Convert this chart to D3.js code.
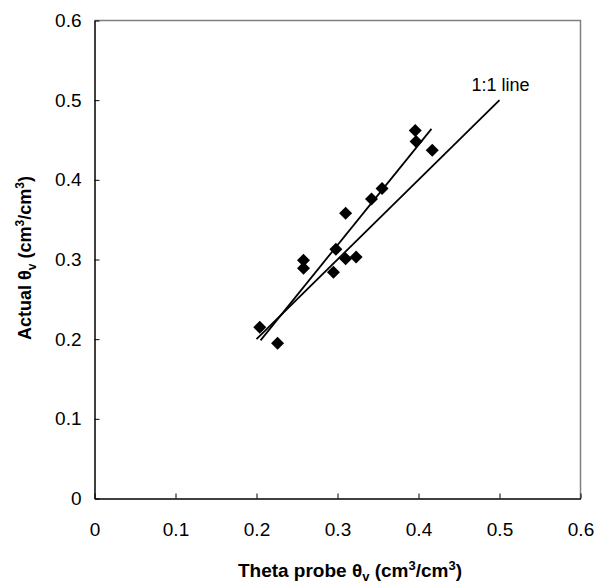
<!DOCTYPE html>
<html>
<head>
<meta charset="utf-8">
<script src="https://cdn.jsdelivr.net/npm/d3@7"></script>
<style>
  body { margin: 0; background: #fff; }
  svg text { font-family: "Liberation Sans", Arial, sans-serif; }
</style>
</head>
<body>
<div id="chart"></div>
<script>
// measured points: theta probe vs actual
const probe  = [0.396, 0.397, 0.417, 0.355, 0.342, 0.310, 0.298, 0.310, 0.323, 0.258, 0.258, 0.295, 0.204, 0.226];
const actual = [0.462, 0.448, 0.437, 0.389, 0.376, 0.358, 0.313, 0.301, 0.303, 0.299, 0.289, 0.284, 0.215, 0.195];

// line ends
const oneToOneX = [0.2, 0.5];
const oneToOneY = [0.2, 0.5];
const trendX = [0.205, 0.416];
const trendY = [0.1985, 0.464];

const tickValues = [0, 0.1, 0.2, 0.3, 0.4, 0.5, 0.6];

const W = 600, H = 587;
const margin = {top: 20.5, right: 19.5, bottom: 88.5, left: 94.5};
const width = W - margin.left - margin.right,
      height = H - margin.top - margin.bottom;

const svg = d3.select("#chart")
  .append("svg")
    .attr("width", W)
    .attr("height", H);

const g = svg.append("g")
    .attr("transform", `translate(${margin.left},${margin.top})`);

const x = d3.scaleLinear().domain([0, 0.6]).range([0, width]);
const y = d3.scaleLinear().domain([0, 0.6]).range([height, 0]);

// top + right frame (grey)
g.append("path")
  .attr("d", `M0,0H${width}V${height}`)
  .attr("fill", "none")
  .attr("stroke", "#808080")
  .attr("stroke-width", 1.5);

const fmt = d => d === 0 ? "0" : d3.format(".1f")(d);

// X axis
const xAxis = g.append("g")
  .attr("transform", `translate(0,${height})`)
  .call(d3.axisBottom(x).tickValues(tickValues).tickFormat(fmt).tickSizeInner(-5).tickSizeOuter(0).tickPadding(24));
// Y axis
const yAxis = g.append("g")
  .call(d3.axisLeft(y).tickValues(tickValues).tickFormat(fmt).tickSizeInner(-5).tickSizeOuter(0).tickPadding(13));

[xAxis, yAxis].forEach(a => {
  a.select(".domain").attr("stroke", "#000").attr("stroke-width", 1.5);
  a.selectAll(".tick line").attr("stroke", "#000");
  a.selectAll("text").attr("font-size", 19).attr("fill", "#000")
    .style("font-family", "'Liberation Sans', Arial, sans-serif");
});

// lines
const line = d3.line().x(d => x(d[0])).y(d => y(d[1]));
g.append("path")
  .datum(oneToOneX.map((v, i) => [v, oneToOneY[i]]))
  .attr("d", line)
  .attr("stroke", "#000").attr("stroke-width", 1.8).attr("fill", "none");
g.append("path")
  .datum(trendX.map((v, i) => [v, trendY[i]]))
  .attr("d", line)
  .attr("stroke", "#000").attr("stroke-width", 1.8).attr("fill", "none");

// diamonds
const r = 6.5;
g.append("g")
  .selectAll("path")
  .data(probe.map((v, i) => [v, actual[i]]))
  .join("path")
    .attr("transform", d => `translate(${x(d[0])},${y(d[1])})`)
    .attr("d", `M0,${-r}L${r},0L0,${r}L${-r},0Z`)
    .attr("fill", "#000");

// 1:1 label
g.append("text")
  .attr("x", x(0.5) - 28)
  .attr("y", y(0.5) - 9)
  .attr("font-size", 18)
  .text("1:1 line");

// axis titles
const xt = svg.append("text")
  .attr("x", 350)
  .attr("y", 577)
  .attr("text-anchor", "middle")
  .attr("font-size", 19)
  .attr("font-weight", "bold");
xt.append("tspan").text("Theta probe θ");
xt.append("tspan").attr("font-size", 13).attr("dy", 4).text("v");
xt.append("tspan").attr("dy", -4).text(" (cm");
xt.append("tspan").attr("font-size", 13).attr("dy", -7).text("3");
xt.append("tspan").attr("dy", 7).text("/cm");
xt.append("tspan").attr("font-size", 13).attr("dy", -7).text("3");
xt.append("tspan").attr("dy", 7).text(")");

const yt = svg.append("text")
  .attr("transform", "translate(31,258) rotate(-90)")
  .attr("text-anchor", "middle")
  .attr("font-size", 18)
  .attr("font-weight", "bold");
yt.append("tspan").text("Actual θ");
yt.append("tspan").attr("font-size", 12).attr("dy", 5).text("v");
yt.append("tspan").attr("dy", -5).text("  (cm");
yt.append("tspan").attr("font-size", 12).attr("dy", -7).text("3");
yt.append("tspan").attr("dy", 7).text("/cm");
yt.append("tspan").attr("font-size", 12).attr("dy", -7).text("3");
yt.append("tspan").attr("dy", 7).text(")");
</script>
</body>
</html>
